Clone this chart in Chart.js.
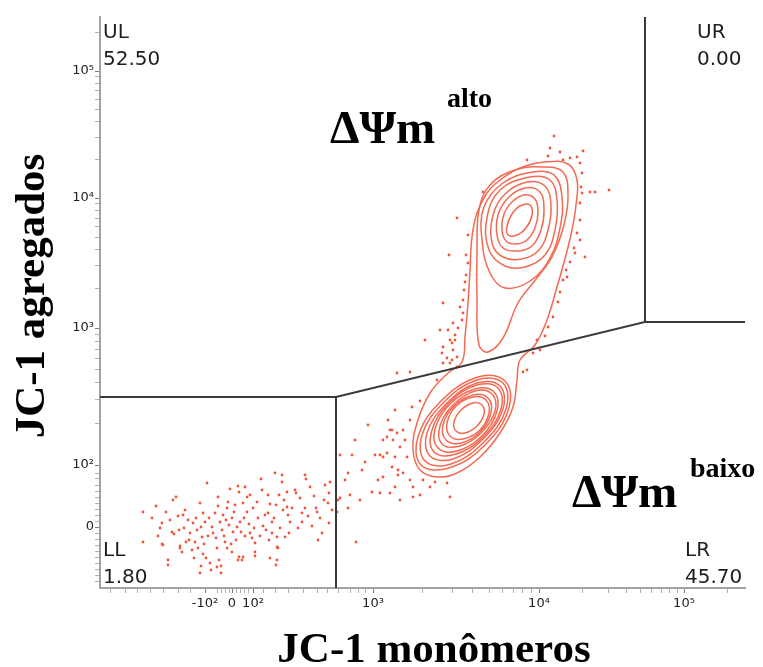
<!DOCTYPE html>
<html lang="pt">
<head>
<meta charset="utf-8">
<title>JC-1</title>
<script src="https://cdn.jsdelivr.net/npm/chart.js@4.4.1/dist/chart.umd.min.js"></script>
<style>
  html, body { margin: 0; padding: 0; background: #fff; }
  canvas { display: block; }
</style>
</head>
<body>
<canvas id="plot" width="763" height="667"></canvas>
<script>
// eixos em canais de exibição (escala biexponencial): x 0–645, y 0–571
const X_MAX = 645, Y_MAX = 571;

const xTickPos = [105, 132, 153, 273, 439, 584];
const xTickLabels = ['-10²', '0', '10²', '10³', '10⁴', '10⁵'];
const yTickPos = [61, 123, 260, 390, 517];
const yTickLabels = ['0', '10²', '10³', '10⁴', '10⁵'];

// ticks menores na parte linear (perto de zero)
const xLinMinor = [10, 25, 37, 50, 63, 78, 90, 117, 121, 125, 129, 136, 140, 144, 148, 163, 175, 188, 203, 217, 227, 238, 250, 258, 265];
const yLinMinor = [7, 13, 19, 25, 31, 37, 43, 49, 55, 67, 73, 79, 85, 91, 97, 103, 109, 115];

const quadNames = ['UL', 'UR', 'LL', 'LR'];
const quadPercent = ['52.50', '0.00', '1.80', '45.70'];

// gate de quadrante
const gateMainX = [0, 236, 545, 545];
const gateMainY = [191, 191, 266, 571];
const gateStemX = [236, 236];
const gateStemY = [0, 191];
const gateArmX = [545, 645];
const gateArmY = [266, 266];

// contornos (x, y em canais)
const contourOuter = [[445,426],[468,424],[477,408],[476,383],[472,358],[466,333],[457,301],[447,268],[435,243],[420,228],[417,208],[413,181],[400,155],[380,131],[357,115],[337,111],[320,118],[313,138],[317,165],[330,195],[348,215],[362,226],[365,251],[368,285],[370,318],[372,351],[377,375],[387,395],[400,408],[420,420]];

const contoursUpper = [
  [[443,421],[463,416],[468,393],[464,363],[452,331],[437,310],[418,285],[403,250],[388,236],[379,243],[377,288],[377,338],[379,378],[390,403],[415,418]],
  [[433,416],[454,413],[462,391],[460,360],[450,330],[430,307],[405,300],[390,315],[382,348],[384,381],[403,405]],
  [[430,411],[450,408],[457,388],[455,358],[445,333],[425,321],[405,322],[389,338],[387,370],[400,398]],
  [[427,406],[445,402],[451,383],[448,358],[439,338],[422,329],[403,331],[392,345],[393,373],[405,394]],
  [[425,400],[440,396],[444,378],[441,358],[432,342],[418,337],[403,340],[397,353],[398,373],[408,390]],
  [[424,393],[435,389],[438,376],[435,360],[427,348],[416,344],[406,347],[402,358],[404,374],[412,386]],
  [[420,382],[430,383],[432,373],[426,360],[417,353],[408,353],[407,362],[412,374]]
];

const contoursLower = [
  [[405,207],[409,180],[385,143],[349,120],[321,123],[318,151],[341,187],[378,211]],
  [[403,205],[406,179],[384,146],[351,124],[325,127],[322,153],[344,186],[377,208]],
  [[400,202],[403,179],[383,149],[353,129],[330,132],[327,155],[347,185],[377,205]],
  [[398,200],[401,179],[383,151],[356,134],[334,136],[332,158],[349,185],[377,203]],
  [[394,196],[397,177],[382,152],[357,137],[338,140],[335,159],[350,184],[375,199]],
  [[392,194],[395,177],[381,155],[360,142],[342,144],[340,162],[353,183],[375,197]],
  [[388,190],[391,175],[380,156],[361,145],[346,148],[343,163],[354,182],[373,193]],
  [[386,188],[389,175],[380,158],[363,149],[350,152],[347,165],[356,182],[373,191]],
  [[382,183],[384,174],[377,162],[365,155],[356,157],[354,166],[361,178],[373,185]]
];

// eventos fora dos contornos
const eventsLL = [[43,76],[43,46],[56,82],[62,65],[60,60],[62,44],[66,76],[68,28],[73,88],[76,91],[72,56],[74,54],[78,72],[79,58],[80,42],[82,36],[83,73],[85,78],[86,46],[88,68],[89,48],[92,38],[93,65],[95,46],[97,58],[98,40],[100,85],[101,61],[102,51],[103,34],[101,22],[103,75],[105,66],[107,105],[108,52],[110,25],[112,61],[115,75],[116,50],[117,40],[118,91],[119,28],[121,22],[120,66],[122,58],[123,73],[125,46],[127,80],[127,40],[128,86],[129,63],[130,99],[132,70],[133,56],[135,83],[136,48],[137,61],[138,102],[139,96],[139,31],[143,31],[145,101],[143,85],[145,52],[147,76],[147,91],[150,93],[150,55],[152,50],[154,60],[155,45],[155,36],[157,86],[161,109],[163,62],[165,73],[168,93],[168,75],[169,48],[172,66],[172,55],[175,115],[176,83],[177,51],[177,41],[177,28],[179,93],[182,113],[182,106],[183,78],[185,51],[187,96],[187,81],[188,73],[190,66],[195,98],[196,95],[202,75],[202,66],[205,113],[206,109],[208,72],[210,101],[216,80],[217,76],[218,48],[222,55],[225,103],[228,85],[229,95],[229,65],[230,106],
  [63,43],[68,23],[80,40],[100,15],[111,18],[117,21],[121,15],[138,28],[142,28],[155,32],[170,30],[176,23],[178,40],
  [84,60],[90,55],[96,70],[104,44],[109,70],[113,55],[118,82],[124,52],[126,68],[131,44],[134,76],[140,66],[141,56],[144,70],[149,64],[153,80],[158,70],[160,52],[162,98],[166,58],[170,84],[174,70],[180,60],[184,88],[189,55],[192,80],[198,60],[200,90],[205,80],[212,62],[214,92],[220,70],[224,88],[232,78],[70,68],[58,52],[52,70],[94,30],[106,30],[132,36],
  [238,88],[240,90],[237,76],[248,80],[248,115],[256,46]];

const eventsMid = [[245,108],[255,148],[262,118],[268,163],[275,133],[278,108],[283,148],[288,168],[295,178],[260,88],[250,93],[272,96],[240,133],[300,88],[320,93],[265,126],[252,133],[280,133],[298,113],[292,158],
  [287,151],[290,158],[293,148],[297,155],[300,141],[303,158],[305,148],[307,131],[287,135],[292,121],[283,131],[295,131],[298,118],[303,115],[310,108],[313,101],[323,108],[330,101],[335,106],[347,105],[350,91],[313,91],[283,111],[295,101],[280,95],[290,95],[320,187],[312,181],[310,168],[297,215],[310,216],[337,208],[342,235],[347,230],[350,225],[357,221],[352,245],[355,248],[427,218],[423,216],[433,235],[437,248]];

const eventsUpper = [[454,452],[450,440],[483,437],[427,428],[448,432],[463,428],[470,430],[477,431],[480,425],[482,415],[460,436],
  [481,401],[482,395],[490,396],[495,396],[509,398],[480,385],[480,368],[477,355],[480,348],[474,340],[475,335],[485,331],[470,326],[466,318],[463,308],[467,311],[460,296],[458,286],[453,271],[448,261],[445,252],[440,238],
  [383,396],[357,370],[368,353],[349,333],[366,333],[368,325],[366,313],[365,306],[364,298],[363,288],[343,285],[360,281],[363,275],[362,268],[353,265],[358,260],[348,258],[340,258],[355,253],[350,248],[325,248],[343,241],[353,238],[357,231],[352,228],[343,225]];

const CONTOUR = '#f36a52';
const DOT = '#f2553d';
const GATE = '#3a3a3a';
const AXIS = '#a3a3a3';

function logMinors(a, b) {
  const out = [];
  for (let k = 2; k <= 9; k++) out.push(a + Math.log10(k) * (b - a));
  return out;
}
const xMinor = xLinMinor.concat(logMinors(xTickPos[3], xTickPos[4]), logMinors(xTickPos[4], xTickPos[5]),
  [xTickPos[5] + Math.log10(2) * (xTickPos[5] - xTickPos[4])]);
const yMinor = yLinMinor.concat(logMinors(yTickPos[1], yTickPos[2]), logMinors(yTickPos[2], yTickPos[3]),
  logMinors(yTickPos[3], yTickPos[4]), [yTickPos[4] + Math.log10(2) * (yTickPos[4] - yTickPos[3])]);

function buildTicks(major, minor) {
  return major.map(v => ({ value: v, major: true }))
    .concat(minor.map(v => ({ value: v })))
    .sort((a, b) => a.value - b.value);
}

const pts = arr => arr.map(([x, y]) => ({ x, y }));
const xy = (xs, ys) => xs.map((x, i) => ({ x, y: ys[i] }));

function gateDs(xs, ys) {
  return { label: 'gate', data: xy(xs, ys), showLine: true, tension: 0, borderColor: GATE, borderWidth: 2, pointRadius: 0, order: 0 };
}
function ringDs(ring) {
  return { label: 'contorno', data: pts(ring), showLine: true, tension: 0.4, borderColor: CONTOUR, borderWidth: 1.5, pointRadius: 0, order: 1 };
}

const datasets = [
  gateDs(gateMainX, gateMainY), gateDs(gateStemX, gateStemY), gateDs(gateArmX, gateArmY),
  ringDs(contourOuter),
  ...contoursUpper.map(ringDs),
  ...contoursLower.map(ringDs),
  { label: 'eventos', data: pts(eventsLL.concat(eventsMid, eventsUpper)), showLine: false,
    pointRadius: 1.4, pointBackgroundColor: DOT, pointBorderWidth: 0, order: 2 }
];

// fecha os contornos como laço (igual ao radar)
const closeRings = {
  id: 'closeRings',
  afterDatasetsUpdate(chart) {
    chart.data.datasets.forEach((ds, i) => {
      if (ds.label !== 'contorno') return;
      const line = chart.getDatasetMeta(i).dataset;
      if (!line) return;
      line._loop = true;
      line._fullLoop = true;
      line._pointsUpdated = false;
      delete line._segments;
      delete line._path;
      line.updateControlPoints(chart.chartArea, 'x');
    });
  }
};

// textos do gráfico
const overlay = {
  id: 'overlay',
  afterDraw(chart) {
    const { ctx, chartArea: a } = chart;
    ctx.save();
    ctx.fillStyle = '#1e1e1e';
    ctx.textBaseline = 'alphabetic';
    ctx.textAlign = 'left';
    ctx.font = '20px "DejaVu Sans"';
    const spots = [[a.left + 3, a.top + 21], [697, a.top + 21], [a.left + 3, a.bottom - 32], [685, a.bottom - 32]];
    spots.forEach(([x, y], i) => {
      ctx.fillText(quadNames[i], x, y);
      ctx.fillText(quadPercent[i], x, y + 27);
    });

    ctx.fillStyle = '#000';
    ctx.font = 'bold 47px "Liberation Serif"';
    ctx.fillText('ΔΨm', 330, 143);
    ctx.fillText('ΔΨm', 572, 507);
    ctx.font = 'bold 28px "Liberation Serif"';
    ctx.fillText('alto', 447, 107);
    ctx.fillText('baixo', 690, 477);

    ctx.font = 'bold 43px "Liberation Serif"';
    ctx.textAlign = 'center';
    ctx.fillText('JC-1 monômeros', 434, 662);
    ctx.translate(44, 296);
    ctx.rotate(-Math.PI / 2);
    ctx.fillText('JC-1 agregados', 0, 0);
    ctx.restore();
  }
};

const tickFont = { family: 'DejaVu Sans', size: 13 };
const tickColor = c => (c.tick && c.tick.major ? '#7a7a7a' : '#b0b0b0');

new Chart(document.getElementById('plot'), {
  type: 'scatter',
  data: { datasets },
  plugins: [closeRings, overlay],
  options: {
    responsive: false,
    animation: false,
    events: [],
    layout: { padding: { top: 17, right: 18, left: 0, bottom: 0 } },
    plugins: { legend: { display: false }, tooltip: { enabled: false } },
    scales: {
      x: {
        type: 'linear', min: 0, max: X_MAX,
        afterBuildTicks: s => { s.ticks = buildTicks(xTickPos, xMinor); },
        afterFit: s => { s.height = 79; },
        ticks: {
          autoSkip: false, maxRotation: 0, minRotation: 0, padding: 3, color: '#222', font: tickFont,
          callback: v => { const i = xTickPos.indexOf(v); return i >= 0 ? xTickLabels[i] : ''; }
        },
        grid: { drawOnChartArea: false, tickLength: 5, color: AXIS, tickColor },
        border: { color: AXIS, width: 2 }
      },
      y: {
        type: 'linear', min: 0, max: Y_MAX,
        afterBuildTicks: s => { s.ticks = buildTicks(yTickPos, yMinor); },
        afterFit: s => { s.width = 100; },
        ticks: {
          autoSkip: false, padding: 1, color: '#222', font: tickFont,
          callback: v => { const i = yTickPos.indexOf(v); return i >= 0 ? yTickLabels[i] : ''; }
        },
        grid: { drawOnChartArea: false, tickLength: 5, color: AXIS, tickColor },
        border: { color: AXIS, width: 2 }
      }
    }
  }
});
</script>
</body>
</html>
